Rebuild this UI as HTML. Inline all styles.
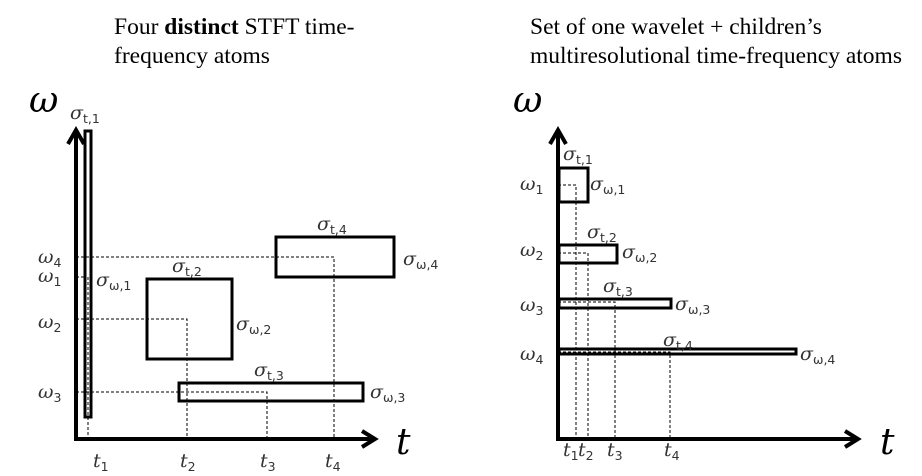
<!DOCTYPE html>
<html><head><meta charset="utf-8"><style>
html,body{margin:0;padding:0;background:#fff;width:922px;height:476px;overflow:hidden}
svg{display:block}
.ti{font-family:"Liberation Serif",serif;font-size:23.5px;fill:#000}
.l{font-family:"DejaVu Serif","Liberation Serif",serif;font-style:italic;font-size:19px;fill:#333}
.s{font-size:12.5px;font-style:normal;font-family:"DejaVu Sans",sans-serif}
.big{font-family:"DejaVu Serif","Liberation Serif",serif;font-style:italic;font-size:36px;fill:#000}
</style></head><body>
<svg width="922" height="476" viewBox="0 0 922 476" xmlns="http://www.w3.org/2000/svg">
<text class="ti" x="114" y="34">Four <tspan font-weight="bold">distinct</tspan> STFT time-</text>
<text class="ti" x="114" y="63">frequency atoms</text>
<text class="ti" x="530" y="34">Set of one wavelet + children’s</text>
<text class="ti" x="530" y="63">multiresolutional time-frequency atoms</text>

<g fill="none" stroke="#000">
<path d="M76 130 V439 H375" stroke-width="4"/>
<path d="M68 144 L76 130 L84 144 M362 431 L375 439 L362 447" stroke-width="4"/>
<g stroke-width="1" stroke-dasharray="3,2">
<path d="M76 257 H334 V439"/>
<path d="M76 277 H84"/>
<path d="M76 319 H187 V439"/>
<path d="M76 392 H267 V439"/>
<path d="M88 277 V439"/>
</g>
<g stroke-width="3">
<rect x="85" y="131" width="6" height="286"/>
<rect x="147" y="279" width="85" height="80"/>
<rect x="179" y="383" width="184" height="18"/>
<rect x="276" y="237" width="118" height="40"/>
</g>
<path d="M558 130 V439 H858" stroke-width="4"/>
<path d="M550 144 L558 130 L566 144 M845 431 L858 439 L845 447" stroke-width="4"/>
<g stroke-width="1" stroke-dasharray="3,2">
<path d="M558 185 H576 V439"/>
<path d="M558 253 H588 V439"/>
<path d="M558 302 H615 V439"/>
<path d="M558 352 H670 V439"/>
</g>
<g stroke-width="3">
<rect x="559" y="168" width="29" height="34"/>
<rect x="559" y="245" width="58" height="18"/>
<rect x="559" y="299" width="112" height="9"/>
<rect x="559" y="349" width="237" height="5"/>
</g>
</g>

<text class="big" x="29" y="112">ω</text>
<text class="big" x="396" y="454">t</text>
<text class="l" x="70" y="119">σ<tspan class="s" dy="4">t,1</tspan></text>
<text class="l" x="38" y="263">ω<tspan class="s" dy="4">4</tspan></text>
<text class="l" x="38" y="282">ω<tspan class="s" dy="4">1</tspan></text>
<text class="l" x="38" y="328">ω<tspan class="s" dy="4">2</tspan></text>
<text class="l" x="38" y="398">ω<tspan class="s" dy="4">3</tspan></text>
<text class="l" x="96" y="286">σ<tspan class="s" dy="4">ω,1</tspan></text>
<text class="l" x="172" y="272">σ<tspan class="s" dy="4">t,2</tspan></text>
<text class="l" x="236" y="330">σ<tspan class="s" dy="4">ω,2</tspan></text>
<text class="l" x="254" y="376">σ<tspan class="s" dy="4">t,3</tspan></text>
<text class="l" x="370" y="398">σ<tspan class="s" dy="4">ω,3</tspan></text>
<text class="l" x="317" y="230">σ<tspan class="s" dy="4">t,4</tspan></text>
<text class="l" x="403" y="265">σ<tspan class="s" dy="4">ω,4</tspan></text>
<text class="l" x="93" y="467">t<tspan class="s" dy="4">1</tspan></text>
<text class="l" x="180" y="467">t<tspan class="s" dy="4">2</tspan></text>
<text class="l" x="260" y="467">t<tspan class="s" dy="4">3</tspan></text>
<text class="l" x="325" y="467">t<tspan class="s" dy="4">4</tspan></text>

<text class="big" x="513" y="112">ω</text>
<text class="big" x="880" y="454">t</text>
<text class="l" x="563" y="160">σ<tspan class="s" dy="4">t,1</tspan></text>
<text class="l" x="590" y="190">σ<tspan class="s" dy="4">ω,1</tspan></text>
<text class="l" x="587" y="238">σ<tspan class="s" dy="4">t,2</tspan></text>
<text class="l" x="622" y="258">σ<tspan class="s" dy="4">ω,2</tspan></text>
<text class="l" x="603" y="292">σ<tspan class="s" dy="4">t,3</tspan></text>
<text class="l" x="675" y="310">σ<tspan class="s" dy="4">ω,3</tspan></text>
<text class="l" x="663" y="346">σ<tspan class="s" dy="4">t,4</tspan></text>
<text class="l" x="800" y="360">σ<tspan class="s" dy="4">ω,4</tspan></text>
<text class="l" x="520" y="190">ω<tspan class="s" dy="4">1</tspan></text>
<text class="l" x="520" y="256">ω<tspan class="s" dy="4">2</tspan></text>
<text class="l" x="520" y="311">ω<tspan class="s" dy="4">3</tspan></text>
<text class="l" x="520" y="360">ω<tspan class="s" dy="4">4</tspan></text>
<text class="l" x="563" y="456">t<tspan class="s" dy="4">1</tspan></text>
<text class="l" x="578" y="456">t<tspan class="s" dy="4">2</tspan></text>
<text class="l" x="607" y="456">t<tspan class="s" dy="4">3</tspan></text>
<text class="l" x="664" y="456">t<tspan class="s" dy="4">4</tspan></text>
</svg>
</body></html>
